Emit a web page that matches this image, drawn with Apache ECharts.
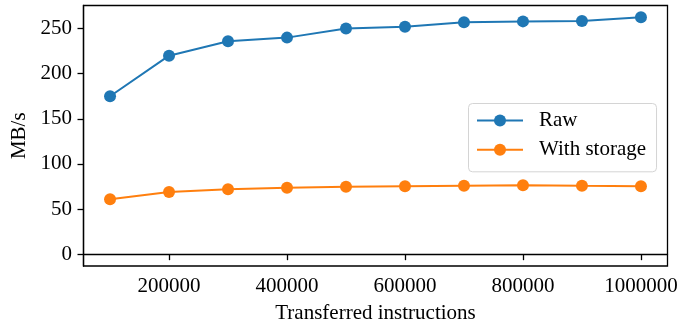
<!DOCTYPE html>
<html>
<head>
<meta charset="utf-8">
<script src="https://cdn.jsdelivr.net/npm/echarts@6/dist/echarts.min.js"></script>
<style>
html,body{margin:0;padding:0;background:#fff;}
#c{width:694px;height:329px;}
</style>
</head>
<body>
<div id="c"></div>
<script>
const xValues = [100000, 200000, 300000, 400000, 500000, 600000, 700000, 800000, 900000, 1000000];
const rawValues = [175, 220, 236, 240, 250, 252, 257, 258, 258.3, 262.5];
const storageValues = [61, 69, 72, 73.6, 74.7, 75.2, 75.8, 76.5, 75.8, 75.3];
const xTicks = [200000, 400000, 600000, 800000, 1000000];
const yTicks = [0, 50, 100, 150, 200, 250];
const seriesNames = ['Raw', 'With storage'];
const xLabel = 'Transferred instructions';
const yLabel = 'MB/s';

const FONT = '"Liberation Serif", "Times New Roman", serif';
const chart = echarts.init(document.getElementById('c'), null, {renderer: 'canvas'});
const pair = (vals) => xValues.map((x, i) => [x, vals[i]]);

chart.setOption({
  animation: false,
  backgroundColor: '#fff',
  textStyle: {fontFamily: FONT},
  grid: {left: 83.5, top: 5.5, right: 26.5, bottom: 60.5, show: true, borderColor: '#000', borderWidth: 1.3, backgroundColor: 'transparent'},
  legend: {
    orient: 'vertical',
    left: 468.5, top: 103.5,
    padding: [6.5, 10.5, 11.5, 7.5],
    itemWidth: 46, itemHeight: 15, itemGap: 8.3,
    backgroundColor: 'rgba(255,255,255,0.8)',
    borderColor: '#d4d4d4', borderWidth: 1, borderRadius: 4,
    textStyle: {fontFamily: FONT, fontSize: 21, color: '#000', padding: [0, 0, 0, 11], lineHeight: 21},
    data: seriesNames
  },
  xAxis: {
    type: 'value', min: 55000, max: 1045000,
    name: xLabel, nameLocation: 'middle', nameGap: 37,
    nameTextStyle: {fontFamily: FONT, fontSize: 21, color: '#000'},
    axisLine: {show: true, lineStyle: {color: '#000', width: 1.3}},
    axisTick: {show: true, inside: false, length: 6, lineStyle: {color: '#000', width: 1.3}, customValues: xTicks},
    axisLabel: {fontFamily: FONT, fontSize: 21, color: '#000', margin: 10, customValues: xTicks, formatter: v => String(v)},
    splitLine: {show: false}
  },
  yAxis: {
    type: 'value', min: -13.1, max: 275.6,
    name: yLabel, nameLocation: 'middle', nameGap: 47, nameRotate: 90,
    nameTextStyle: {fontFamily: FONT, fontSize: 21, color: '#000'},
    axisLine: {show: true, lineStyle: {color: '#000', width: 1.3}},
    axisTick: {show: true, inside: false, length: 6, lineStyle: {color: '#000', width: 1.3}, customValues: yTicks},
    axisLabel: {fontFamily: FONT, fontSize: 21, color: '#000', margin: 11.5, customValues: yTicks, formatter: v => String(v)},
    splitLine: {show: false}
  },
  series: [
    {name: seriesNames[0], type: 'line', data: pair(rawValues), symbol: 'circle', symbolSize: 12,
     lineStyle: {color: '#1f77b4', width: 2}, itemStyle: {color: '#1f77b4'}},
    {name: seriesNames[1], type: 'line', data: pair(storageValues), symbol: 'circle', symbolSize: 12,
     lineStyle: {color: '#ff7f0e', width: 2}, itemStyle: {color: '#ff7f0e'}}
  ]
});
</script>
</body>
</html>
